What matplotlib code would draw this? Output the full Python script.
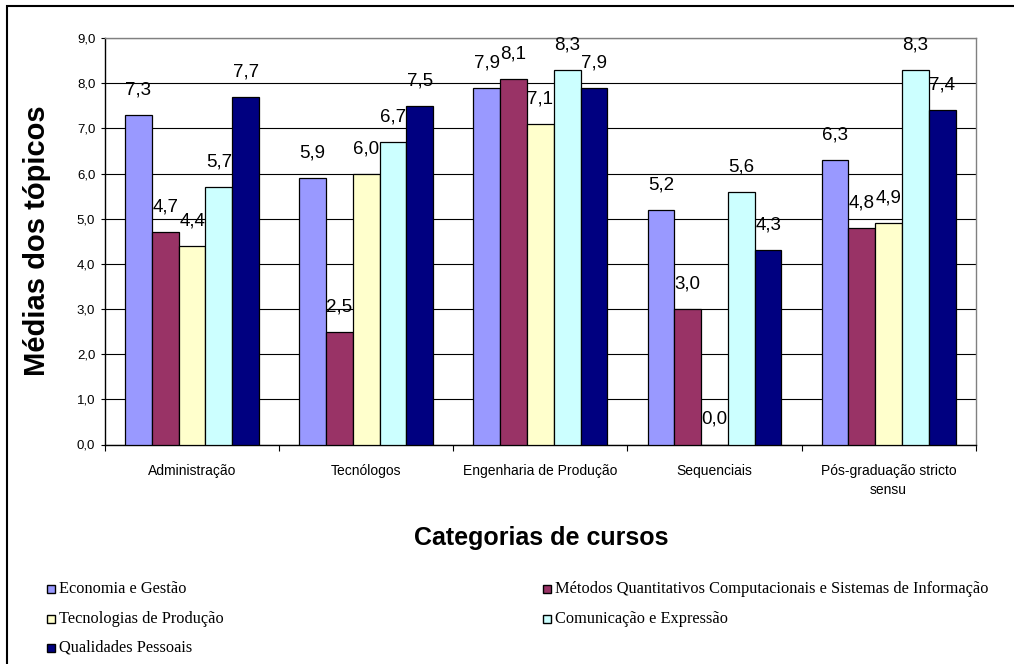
import matplotlib
matplotlib.use("Agg")
import matplotlib.pyplot as plt
import numpy as np
from matplotlib.patches import Rectangle

categories = ["Administração", "Tecnólogos", "Engenharia de Produção",
              "Sequenciais", "Pós-graduação stricto\nsensu"]
series_names = ["Economia e Gestão",
                "Métodos Quantitativos Computacionais e Sistemas de Informação",
                "Tecnologias de Produção",
                "Comunicação e Expressão",
                "Qualidades Pessoais"]
economia = [7.3, 5.9, 7.9, 5.2, 6.3]
metodos = [4.7, 2.5, 8.1, 3.0, 4.8]
tecnologias = [4.4, 6.0, 7.1, 0.0, 4.9]
comunicacao = [5.7, 6.7, 8.3, 5.6, 8.3]
qualidades = [7.7, 7.5, 7.9, 4.3, 7.4]
series_values = [economia, metodos, tecnologias, comunicacao, qualidades]
colors = ["#9999FF", "#993366", "#FFFFCC", "#CCFFFF", "#000080"]
yticks = [0, 1, 2, 3, 4, 5, 6, 7, 8, 9]

W, H = 1014, 664
fig = plt.figure(figsize=(W / 100, H / 100), dpi=100)
sans = "Liberation Sans"
serif = "Liberation Serif"

# outer border (cropped on right/bottom)
fig.add_artist(Rectangle((7 / W, -0.1), 1.2, 1 - 6 / H + 0.1,
                         transform=fig.transFigure, fill=False,
                         edgecolor="black", linewidth=1.5))

ax_l, ax_r, ax_t, ax_b = 105, 975.7, 38, 444.5
ax = fig.add_axes([ax_l / W, 1 - ax_b / H, (ax_r - ax_l) / W, (ax_b - ax_t) / H])

n = len(series_values)
gap = 1.5
bw = 1.0 / (n + gap)
x = np.arange(len(categories))
for i, (vals, col) in enumerate(zip(series_values, colors)):
    pos = x - 0.5 + (gap / 2) * bw + (i + 0.5) * bw
    ax.bar(pos, vals, width=bw, color=col, edgecolor="black",
           linewidth=0.9, zorder=3)
    for p, v in zip(pos, vals):
        ax.annotate(f"{v:.1f}".replace(".", ","), (p, v), xytext=(0, 18),
                    textcoords="offset points", ha="center", va="center",
                    fontsize=13.5, family=sans, zorder=4)

ax.set_xlim(-0.5, len(categories) - 0.5)
ax.set_ylim(0, 9)
ax.set_yticks(yticks)
ax.set_yticklabels([f"{t:.1f}".replace(".", ",") for t in yticks],
                   family=sans, fontsize=9.5)
ax.yaxis.grid(True, color="black", linewidth=0.8, zorder=1)
ax.set_axisbelow(True)
ax.set_xticks(x)
ax.set_xticklabels(categories, family=sans, fontsize=10, linespacing=1.5)
ax.set_xticks(np.arange(len(categories) + 1) - 0.5, minor=True)
ax.tick_params(axis="x", which="major", length=0, pad=14)
ax.tick_params(axis="x", which="minor", length=4, width=0.8, direction="out")
ax.tick_params(axis="y", length=3, width=0.8, pad=4)
for s in ["top", "right"]:
    ax.spines[s].set_color("#808080")
    ax.spines[s].set_linewidth(1.0)
for s in ["left", "bottom"]:
    ax.spines[s].set_color("black")
    ax.spines[s].set_linewidth(1.0)

fig.text(541 / W, 1 - 538 / H, "Categorias de cursos", ha="center", va="center",
         fontsize=18, fontweight="bold", family=sans)
fig.text(37 / W, 1 - 241 / H, "Médias dos tópicos", ha="center", va="center",
         rotation=90, fontsize=21, fontweight="bold", family=sans)

# legend
entries = [(0, 0), (1, 1), (2, 0), (3, 1), (4, 0)]
row_y = [589, 619, 648]
col_x = [47, 543]
row_counter = [0, 0]
for si, c in entries:
    r = row_counter[c]
    row_counter[c] += 1
    yy = row_y[r]
    mx = col_x[c]
    fig.add_artist(Rectangle((mx / W, 1 - (yy + 4) / H), 8 / W, 8 / H,
                             transform=fig.transFigure, facecolor=colors[si],
                             edgecolor="black", linewidth=1.0))
    fig.text((mx + 12) / W, 1 - yy / H, series_names[si], ha="left", va="center",
             fontsize=11.8, family=serif)

fig.savefig("out.png", dpi=100)
